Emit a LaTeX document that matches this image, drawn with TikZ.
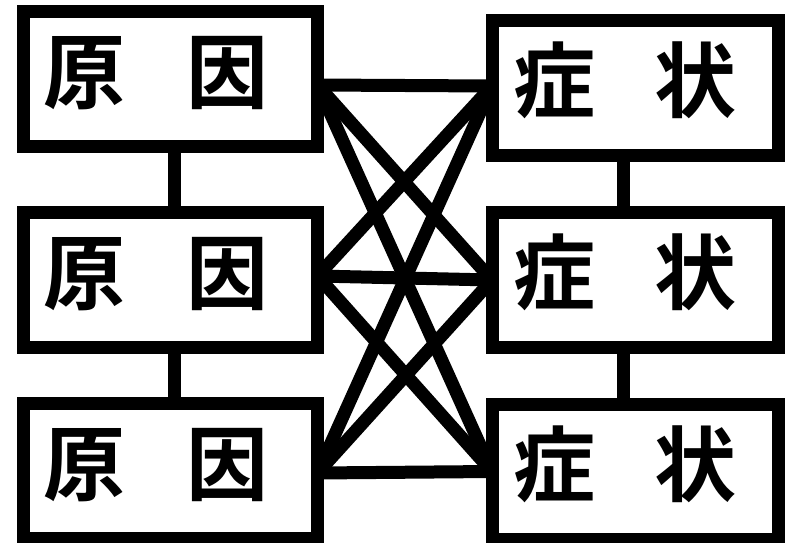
\documentclass[tikz,border=0pt]{standalone}
\usepackage{fontspec}
\newfontfamily\cjk{Noto Sans CJK JP}[BoldFont=* Bold]
\usetikzlibrary{calc}
\begin{document}
\begin{tikzpicture}[x=1pt,y=-1pt,
  thick line/.style={line width=13pt},
  lbox/.style={draw,line width=13pt,inner sep=0pt,outer sep=0pt,minimum width=294pt,minimum height=135pt},
  rbox/.style={draw,line width=13pt,inner sep=0pt,outer sep=0pt,minimum width=286pt,minimum height=135pt},
  txt/.style={inner sep=0pt,font=\cjk\bfseries\fontsize{82pt}{82pt}\selectfont}]
\useasboundingbox (0,0) rectangle (788,543);
\node[lbox] (L1) at (170.5,79) {};
\node[lbox] (L2) at (170.5,280) {};
\node[lbox] (L3) at (170.5,471) {};
\node[rbox] (R1) at (635,88) {};
\node[rbox] (R2) at (635,280) {};
\node[rbox] (R3) at (635,471.5) {};
\node[txt] (L1t) at (156,73) {原\hspace{62pt}因};
\node[txt] (L2t) at (156,274) {原\hspace{62pt}因};
\node[txt] (L3t) at (156,465) {原\hspace{62pt}因};
\node[txt] (R1t) at (625,80) {症\hspace{60pt}状};
\node[txt] (R2t) at (625,272) {症\hspace{60pt}状};
\node[txt] (R3t) at (625,464) {症\hspace{60pt}状};
% vertical connectors
\draw[thick line] ($(L1.south)+(3.5,0)$) -- ($(L2.north)+(3.5,0)$);
\draw[thick line] ($(L2.south)+(3.5,0)$) -- ($(L3.north)+(3.5,0)$);
\draw[thick line] ($(R1.south)+(-12,0)$) -- ($(R2.north)+(-12,0)$);
\draw[thick line] ($(R2.south)+(-12,0)$) -- ($(R3.north)+(-12,0)$);
% anchor coordinates
\coordinate (a1) at ($(L1.east)+(0,6)$);
\coordinate (a2) at ($(L2.east)+(0,-4)$);
\coordinate (a3) at ($(L3.east)+(0,2)$);
\coordinate (b1) at ($(R1.west)+(0,-2)$);
\coordinate (b2) at ($(R2.west)+(0,0)$);
\coordinate (b3) at ($(R3.west)+(0,0)$);
\foreach \i in {1,2,3}{
  \foreach \j in {1,2,3}{
    \draw[thick line] (a\i) -- (b\j);
  }
}
\end{tikzpicture}
\end{document}
